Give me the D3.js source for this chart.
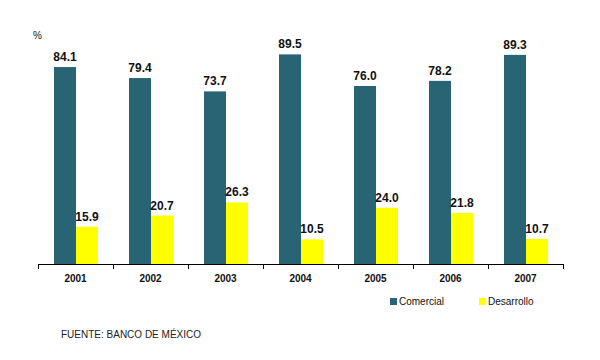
<!DOCTYPE html>
<html><head><meta charset="utf-8">
<script src="https://cdn.jsdelivr.net/npm/d3@7/dist/d3.min.js"></script>
<style>body{margin:0;background:#fff;} svg{display:block;font-family:Arial,"Liberation Sans",sans-serif;}</style>
</head><body>
<script>
const years = ["2001","2002","2003","2004","2005","2006","2007"];
const comercial = [84.1,79.4,73.7,89.5,76.0,78.2,89.3];
const desarrollo = [15.9,20.7,26.3,10.5,24.0,21.8,10.7];
const seriesNames = ["Comercial","Desarrollo"];
const colors = ["#286474","#ffff00"];

const W=600,H=360;
const svg=d3.select("body").append("svg").attr("width",W).attr("height",H);
const x=d3.scaleBand().domain(years).range([38,563]).paddingInner(0).paddingOuter(0);
const y=d3.scaleLinear().domain([0,100]).range([264,29.8]);
const bw=22, off=16;

const series=[comercial,desarrollo];
series.forEach((vals,si)=>{
  const g=svg.append("g");
  g.selectAll("rect").data(vals).join("rect")
   .attr("x",(d,i)=>x(years[i])+off+si*bw).attr("width",bw)
   .attr("y",d=>y(d)).attr("height",d=>y(0)-y(d)).attr("fill",colors[si]);
  g.selectAll("text").data(vals).join("text")
   .attr("x",(d,i)=>x(years[i])+off+si*bw+bw/2).attr("y",d=>y(d)-6)
   .attr("text-anchor","middle").attr("font-size",12).attr("font-weight","bold").attr("fill","#111")
   .text(d=>d.toFixed(1));
});

const ax=svg.append("g").attr("transform","translate(0,264)")
  .call(d3.axisBottom(x).tickSize(0).tickPadding(0));
ax.select(".domain").remove();
ax.append("line").attr("x1",38).attr("x2",563).attr("y1",0.5).attr("y2",0.5).attr("stroke","#000");
ax.selectAll(".tick text").attr("y",18).attr("dy",0).attr("font-size",10).attr("font-weight","bold")
  .attr("font-family","Arial,'Liberation Sans',sans-serif").attr("fill","#111");
const bounds=years.map(yy=>x(yy)).concat([x(years[years.length-1])+x.bandwidth()]);
ax.selectAll("line.sep").data(bounds).join("line").attr("class","sep")
  .attr("x1",d=>Math.round(d)+0.5).attr("x2",d=>Math.round(d)+0.5).attr("y1",0).attr("y2",5).attr("stroke","#000");

svg.append("text").attr("x",33).attr("y",39).attr("font-size",10).attr("fill","#111").text("%");

const lg=svg.append("g");
const lx=[390,479];
seriesNames.forEach((n,i)=>{
  lg.append("rect").attr("x",lx[i]).attr("y",298).attr("width",7).attr("height",7).attr("fill",colors[i]);
  lg.append("text").attr("x",lx[i]+9).attr("y",305).attr("font-size",10).attr("fill","#111").text(n);
});

svg.append("text").attr("x",61).attr("y",338).attr("font-size",10).attr("fill","#222").text("FUENTE: BANCO DE MÉXICO");
</script>
</body></html>
